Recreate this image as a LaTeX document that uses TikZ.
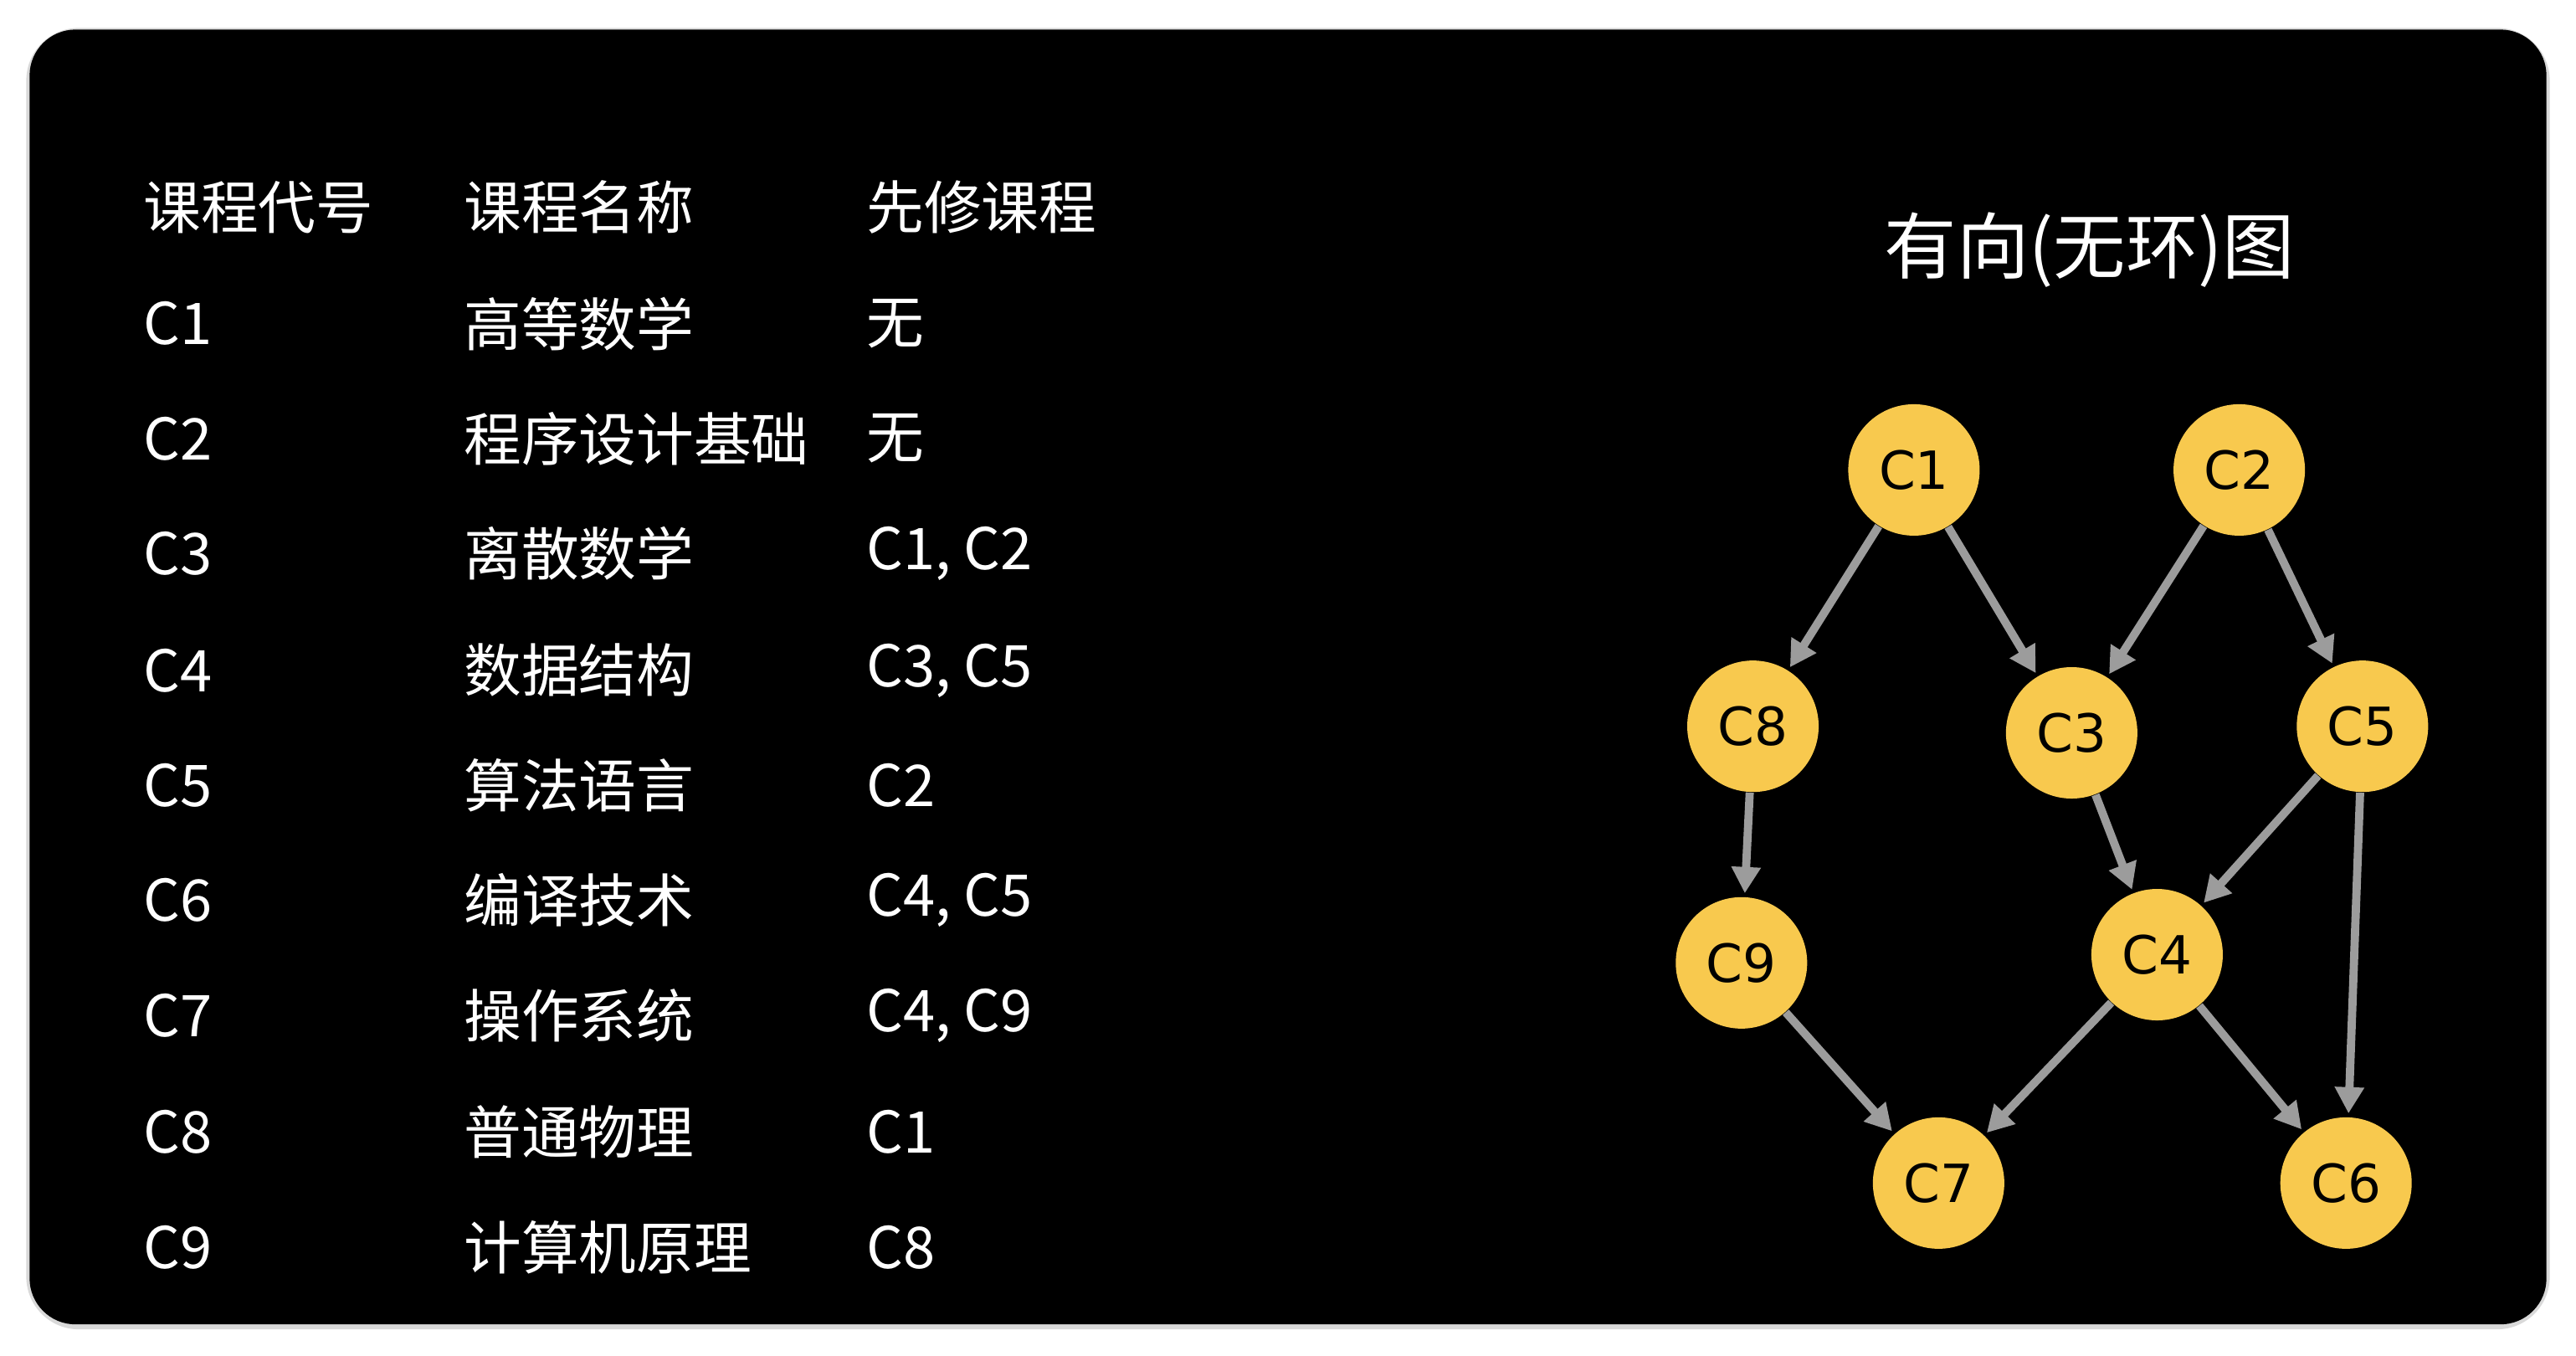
\documentclass[tikz,border=0pt]{standalone}
\usepackage{fontspec}
\setmainfont{Noto Sans CJK SC}
\newfontfamily\nodefont{DejaVu Sans}
\usetikzlibrary{arrows.meta}
\definecolor{nodey}{HTML}{F8C94E}
\definecolor{arr}{HTML}{9C9C9C}
\tikzset{
 cnode/.style={circle,fill=nodey,minimum size=40pt,inner sep=0pt,font=\nodefont\fontsize{16}{16}\selectfont},
 edge/.style={arr,line width=2.5pt,-{Triangle[length=8pt,width=8.5pt]},shorten >=1pt},
 cell/.style={anchor=west,inner sep=0pt,text=white,font=\fontsize{17.5}{17.5}\selectfont}
}
\begin{document}
\begin{tikzpicture}[x=0.5pt,y=-0.5pt]
\useasboundingbox (0,0) rectangle (1568,825);
\fill[white] (0,0) rectangle (1568,825);
\fill[gray!30,rounded corners=16pt] (16,17) rectangle (1552,809);
\fill[black,rounded corners=14pt] (18,18) rectangle (1550,806);
\foreach \r/\a/\b/\c [count=\i] in {126/课程代号/课程名称/先修课程,197/C1/高等数学/无,267/C2/程序设计基础/无,337/C3/离散数学/{C1, C2},408/C4/数据结构/{C3, C5},478/C5/算法语言/C2,548/C6/编译技术/{C4, C5},618/C7/操作系统/{C4, C9},689/C8/普通物理/C1,759/C9/计算机原理/C8}{
 \node[cell] (a\i) at (87,\r) {\a};
 \node[cell] (b\i) at (282,\r) {\b};
 \node[cell] (c\i) at (527,\r) {\c};
}
\node[text=white,font=\fontsize{22}{22}\selectfont] (title) at (1272,152) {有向(无环)图};
\node[cnode] (C1) at (1165,286) {C1};
\node[cnode] (C2) at (1363,286) {C2};
\node[cnode] (C8) at (1067,442) {C8};
\node[cnode] (C3) at (1261,446) {C3};
\node[cnode] (C5) at (1438,442) {C5};
\node[cnode] (C9) at (1060,586) {C9};
\node[cnode] (C4) at (1313,581) {C4};
\node[cnode] (C7) at (1180,720) {C7};
\node[cnode] (C6) at (1428,720) {C6};
\foreach \s/\t in {C1/C8,C1/C3,C2/C3,C2/C5,C8/C9,C3/C4,C5/C4,C5/C6,C9/C7,C4/C7,C4/C6}
 \draw[edge] (\s) -- (\t);
\end{tikzpicture}
\end{document}
